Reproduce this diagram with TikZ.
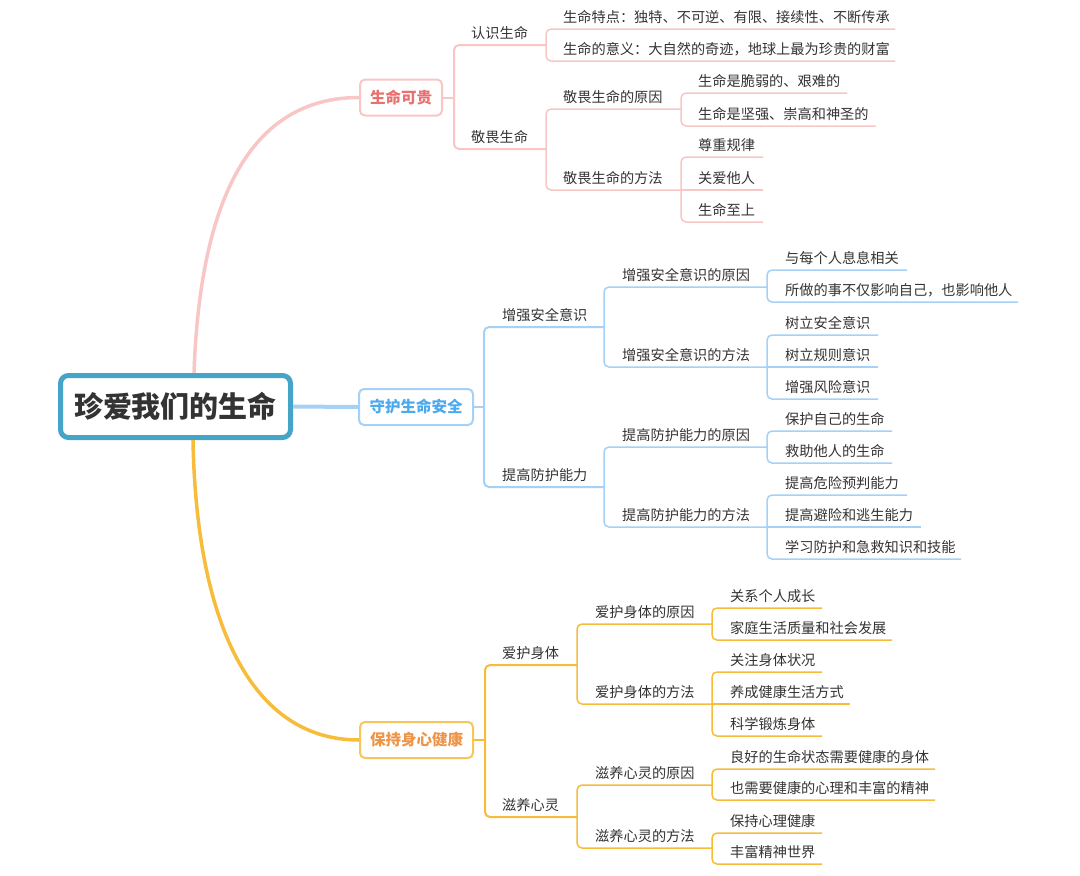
\documentclass[tikz,border=0pt]{standalone}
\usepackage{fontspec}
\setmainfont{Noto Sans CJK SC}
\definecolor{txt}{HTML}{333333}
\definecolor{rootc}{HTML}{45A5C9}
\definecolor{pinkl}{HTML}{F9C6C6}
\definecolor{pinkt}{HTML}{E8706E}
\definecolor{bluel}{HTML}{A6D1F6}
\definecolor{bluet}{HTML}{4BA9EE}
\definecolor{orgl}{HTML}{F6BC3A}
\definecolor{orgt}{HTML}{EE9448}
\newcommand\mmk[6]{\node[lbl,anchor=base west] (#1) at (#3,#4-6.5) {#6}; \coordinate (#1-e) at (#5,#4);}
\begin{document}
\begin{tikzpicture}[x=1pt,y=-1pt,
  lbl/.style={font=\fontsize{14.2}{17}\selectfont, text=txt, inner sep=0pt},
  mainbox/.style={draw, fill=white, rounded corners=5pt, line width=2pt, minimum height=36pt, inner sep=0pt, font=\bfseries\fontsize{15.5}{18}\selectfont},
  pk/.style={draw=pinkl, line width=1.5pt, rounded corners=5pt},
  pk2/.style={pk, line width=2pt},
  bl/.style={draw=bluel, line width=1.5pt, rounded corners=5pt},
  bl2/.style={bl, line width=2pt},
  og/.style={draw=orgl, line width=1.5pt, rounded corners=5pt},
  og2/.style={og, line width=2pt}]
\useasboundingbox (0,0) rectangle (1080,876);

% root
\node[draw=rootc, line width=5pt, rounded corners=8pt, minimum width=230pt, minimum height=62pt, inner sep=0pt, text=txt, font=\bfseries\fontsize{29}{34}\selectfont] (root) at (175.5,406.5) {珍爱我们的生命};

% main boxes
\node[mainbox, draw=pinkl, text=pinkt, minimum width=82pt] (P) at (401,97.5) {生命可贵};
\node[mainbox, draw=bluel, text=bluet, minimum width=114pt] (B) at (416,407) {守护生命安全};
\node[mainbox, draw=orgl!85, text=orgt, minimum width=113pt] (O) at (416.5,740) {保持身心健康};

% main connectors
\draw[pinkl, line width=3.5pt] ([xshift=18.5pt]root.north) .. controls (200,200) and (250,97.5) .. (P.west);
\draw[bluel, line width=4pt] (root.east) -- (B.west);
\draw[orgl, line width=3.5pt] ([xshift=17.5pt]root.south) .. controls (196,610) and (245,740) .. (O.west);

% ---------------- pink branch
\coordinate (P-e) at (454,97.5);
\mmk{p1}{}{471}{45}{546}{认识生命}
\mmk{p11}{}{563}{29}{895}{生命特点：独特、不可逆、有限、接续性、不断传承}
\mmk{p12}{}{563}{61}{895}{生命的意义：大自然的奇迹，地球上最为珍贵的财富}
\mmk{p2}{}{471}{149}{546}{敬畏生命}
\mmk{p21}{}{563}{109}{681}{敬畏生命的原因}
\mmk{p211}{}{698}{93}{847}{生命是脆弱的、艰难的}
\mmk{p212}{}{698}{126}{876}{生命是坚强、崇高和神圣的}
\mmk{p22}{}{563}{190}{681}{敬畏生命的方法}
\mmk{p221}{}{698}{157}{763}{尊重规律}
\mmk{p222}{}{698}{190}{763}{关爱他人}
\mmk{p223}{}{698}{222}{763}{生命至上}
\draw[pk2] (P.east) -- (P-e);
\draw[pk2] (P-e) |- (p1-e);
\draw[pk2] (P-e) |- (p2-e);
\draw[pk] (p1-e) |- (p11-e);
\draw[pk] (p1-e) |- (p12-e);
\draw[pk] (p2-e) |- (p21-e);
\draw[pk] (p2-e) |- (p22-e);
\draw[pk] (p21-e) |- (p211-e);
\draw[pk] (p21-e) |- (p212-e);
\draw[pk] (p22-e) |- (p221-e);
\draw[pk] (p22-e) -- (p222-e);
\draw[pk] (p22-e) |- (p223-e);

% ---------------- blue branch
\coordinate (B-e) at (484,407);
\mmk{b1}{}{502}{327}{604}{增强安全意识}
\mmk{b11}{}{622}{287}{767}{增强安全意识的原因}
\mmk{b111}{}{785}{270}{907}{与每个人息息相关}
\mmk{b112}{}{785}{302}{1018}{所做的事不仅影响自己，也影响他人}
\mmk{b12}{}{622}{367}{767}{增强安全意识的方法}
\mmk{b121}{}{785}{335}{878}{树立安全意识}
\mmk{b122}{}{785}{367}{878}{树立规则意识}
\mmk{b123}{}{785}{399}{878}{增强风险意识}
\mmk{b2}{}{502}{487}{604}{提高防护能力}
\mmk{b21}{}{622}{447}{767}{提高防护能力的原因}
\mmk{b211}{}{785}{431}{892}{保护自己的生命}
\mmk{b212}{}{785}{463}{892}{救助他人的生命}
\mmk{b22}{}{622}{527}{767}{提高防护能力的方法}
\mmk{b221}{}{785}{495}{907}{提高危险预判能力}
\mmk{b222}{}{785}{527}{921}{提高避险和逃生能力}
\mmk{b223}{}{785}{559}{961}{学习防护和急救知识和技能}
\draw[bl2] (B.east) -- (B-e);
\draw[bl2] (B-e) |- (b1-e);
\draw[bl2] (B-e) |- (b2-e);
\draw[bl] (b1-e) |- (b11-e);
\draw[bl] (b1-e) |- (b12-e);
\draw[bl] (b11-e) |- (b111-e);
\draw[bl] (b11-e) |- (b112-e);
\draw[bl] (b12-e) |- (b121-e);
\draw[bl] (b12-e) -- (b122-e);
\draw[bl] (b12-e) |- (b123-e);
\draw[bl] (b2-e) |- (b21-e);
\draw[bl] (b2-e) |- (b22-e);
\draw[bl] (b21-e) |- (b211-e);
\draw[bl] (b21-e) |- (b212-e);
\draw[bl] (b22-e) |- (b221-e);
\draw[bl] (b22-e) -- (b222-e);
\draw[bl] (b22-e) |- (b223-e);

% ---------------- orange branch
\coordinate (O-e) at (485,740);
\mmk{o1}{}{502}{665}{577}{爱护身体}
\mmk{o11}{}{595}{624}{712}{爱护身体的原因}
\mmk{o111}{}{730}{608}{822}{关系个人成长}
\mmk{o112}{}{730}{640}{892}{家庭生活质量和社会发展}
\mmk{o12}{}{595}{704}{712}{爱护身体的方法}
\mmk{o121}{}{730}{672}{822}{关注身体状况}
\mmk{o122}{}{730}{704}{850}{养成健康生活方式}
\mmk{o123}{}{730}{736}{822}{科学锻炼身体}
\mmk{o2}{}{502}{817}{577}{滋养心灵}
\mmk{o21}{}{595}{785}{712}{滋养心灵的原因}
\mmk{o211}{}{730}{769}{935}{良好的生命状态需要健康的身体}
\mmk{o212}{}{730}{800}{935}{也需要健康的心理和丰富的精神}
\mmk{o22}{}{595}{848}{712}{滋养心灵的方法}
\mmk{o221}{}{730}{833}{822}{保持心理健康}
\mmk{o222}{}{730}{864}{822}{丰富精神世界}
\draw[og2] (O.east) -- (O-e);
\draw[og2] (O-e) |- (o1-e);
\draw[og2] (O-e) |- (o2-e);
\draw[og] (o1-e) |- (o11-e);
\draw[og] (o1-e) |- (o12-e);
\draw[og] (o11-e) |- (o111-e);
\draw[og] (o11-e) |- (o112-e);
\draw[og] (o12-e) |- (o121-e);
\draw[og] (o12-e) -- (o122-e);
\draw[og] (o12-e) |- (o123-e);
\draw[og] (o2-e) |- (o21-e);
\draw[og] (o2-e) |- (o22-e);
\draw[og] (o21-e) |- (o211-e);
\draw[og] (o21-e) |- (o212-e);
\draw[og] (o22-e) |- (o221-e);
\draw[og] (o22-e) |- (o222-e);
\end{tikzpicture}
\end{document}
